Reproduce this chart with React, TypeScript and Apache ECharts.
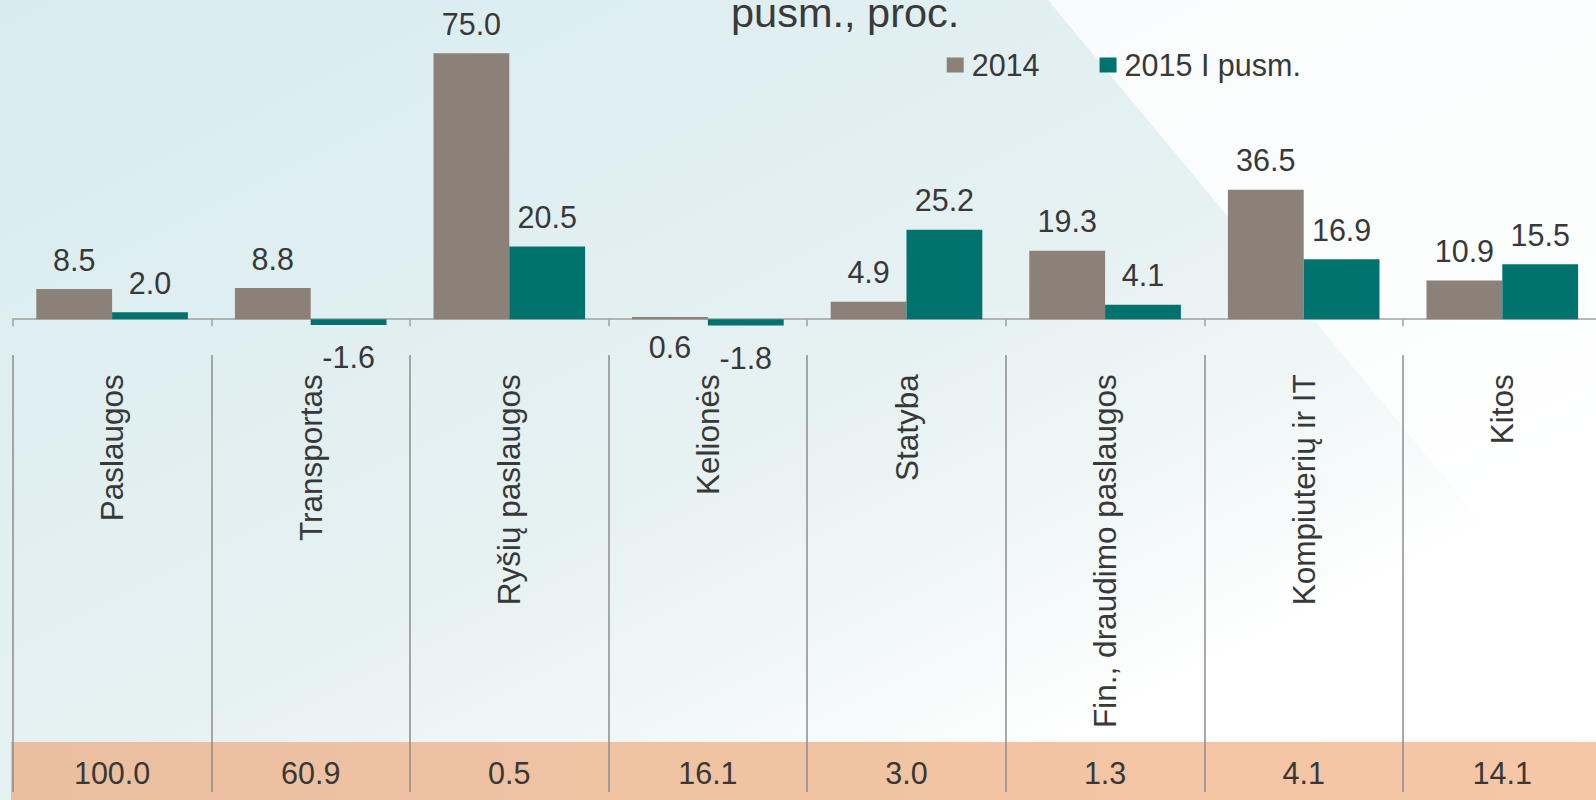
import React, { useEffect, useRef } from "react";
import * as echarts from "echarts";

const categories = [
  "Paslaugos",
  "Transportas",
  "Ryšių paslaugos",
  "Kelionės",
  "Statyba",
  "Fin., draudimo paslaugos",
  "Kompiuterių ir IT",
  "Kitos",
];
const values2014 = [8.5, 8.8, 75.0, 0.6, 4.9, 19.3, 36.5, 10.9];
const values2015 = [2.0, -1.6, 20.5, -1.8, 25.2, 4.1, 16.9, 15.5];
const shareLabels = ["100.0", "60.9", "0.5", "16.1", "3.0", "1.3", "4.1", "14.1"];
const seriesNames = ["2014", "2015 I pusm."];
const labelsBelowAxis2014 = ["Kelionės"];

const FONT = "'Liberation Sans', Arial, sans-serif";
const TEXT = "#383838";
const GRAY = "#8B8178";
const TEAL = "#00736F";

function makeData(values: number[], below: string[]) {
  return values.map((v, i) => {
    if (v < 0) return { value: v, label: { position: "bottom", distance: 17 } };
    if (below.includes(categories[i]))
      return { value: v, label: { position: "bottom", distance: 12 } };
    return { value: v };
  });
}

export default function App() {
  const ref = useRef<HTMLDivElement>(null);
  useEffect(() => {
    if (!ref.current) return;
    const chart = echarts.init(ref.current, null, { renderer: "svg" });
    const barLabel = {
      show: true,
      position: "top",
      distance: 14,
      fontSize: 30.5,
      fontFamily: FONT,
      color: TEXT,
      formatter: (p: any) => Number(p.value).toFixed(1),
    };
    const option: any = {
      animation: false,
      textStyle: { fontFamily: FONT },
      graphic: {
        elements: [
          {
            type: "rect",
            z: -100,
            silent: true,
            shape: { x: 0, y: 0, width: 1596, height: 800 },
            style: {
              fill: new echarts.graphic.LinearGradient(0, 0, 1, 1, [
                { offset: 0, color: "#D8ECF0" },
                { offset: 0.5, color: "#E6F1F2" },
                { offset: 0.68, color: "#F3F8F8" },
                { offset: 0.8, color: "#FFFFFF" },
                { offset: 1, color: "#FFFFFF" },
              ]),
            },
          },
          {
            type: "polygon",
            z: -99,
            silent: true,
            shape: {
              points: [
                [1048, 0],
                [1596, 0],
                [1596, 660],
              ],
            },
            style: { fill: "rgba(255,255,255,0.8)" },
          },
          {
            type: "rect",
            z: -98,
            silent: true,
            shape: { x: 11, y: 742, width: 1585, height: 58 },
            style: {
              fill: new echarts.graphic.LinearGradient(0, 0, 1, 0, [
                { offset: 0, color: "#EABFA0" },
                { offset: 1, color: "#F6C7A6" },
              ]),
            },
          },
        ],
      },
      title: {
        text: "pusm., proc.",
        left: 726,
        top: -14,
        textStyle: { fontSize: 41.5, fontWeight: "normal", color: "#3a3a3a", fontFamily: FONT },
      },
      legend: {
        data: seriesNames,
        left: 941.7,
        top: 44.5,
        icon: "rect",
        itemWidth: 17,
        itemHeight: 15,
        itemGap: 60,
        textStyle: { fontSize: 30.5, color: TEXT, fontFamily: FONT, padding: [0, 0, 0, 3] },
      },
      grid: [
        { left: 12.8, top: 35.5, width: 1588.8, height: 319.2, outerBoundsMode: "none" },
        { left: 12.8, top: 355, width: 1588.8, height: 437, outerBoundsMode: "none" },
      ],
      xAxis: [
        {
          gridIndex: 0,
          type: "category",
          data: categories,
          axisLine: { show: true, onZero: true, lineStyle: { color: "#a0a0a0", width: 1.5 } },
          axisTick: { show: true, length: 7, interval: 0, lineStyle: { color: "#a0a0a0", width: 1.5 } },
          axisLabel: {
            interval: 0,
            rotate: 90,
            margin: 19.5,
            fontSize: 31.5,
            color: TEXT,
            fontFamily: FONT,
          },
          splitLine: { show: false },
        },
        {
          gridIndex: 1,
          type: "category",
          data: shareLabels,
          position: "bottom",
          axisLine: { show: false },
          axisTick: { show: false },
          axisLabel: {
            interval: 0,
            inside: true,
            margin: 4,
            fontSize: 30.5,
            color: TEXT,
            fontFamily: FONT,
          },
          splitLine: { show: true, interval: 0, lineStyle: { color: "#8c8c8c", width: 1.5 } },
        },
      ],
      yAxis: [
        { gridIndex: 0, type: "value", min: -10, max: 80, show: false, splitLine: { show: false } },
        { gridIndex: 1, type: "value", min: 0, max: 1, show: false, splitLine: { show: false } },
      ],
      series: [
        {
          name: seriesNames[0],
          type: "bar",
          xAxisIndex: 0,
          yAxisIndex: 0,
          barWidth: 75.8,
          barGap: "0%",
          itemStyle: { color: GRAY },
          label: barLabel,
          data: makeData(values2014, labelsBelowAxis2014),
        },
        {
          name: seriesNames[1],
          type: "bar",
          xAxisIndex: 0,
          yAxisIndex: 0,
          barWidth: 75.8,
          barGap: "0%",
          itemStyle: { color: TEAL },
          label: barLabel,
          data: makeData(values2015, []),
        },
      ],
    };
    chart.setOption(option);
    return () => chart.dispose();
  }, []);
  return (
    <div
      ref={ref}
      style={{ position: "absolute", left: 0, top: 0, width: 1596, height: 800 }}
    />
  );
}
